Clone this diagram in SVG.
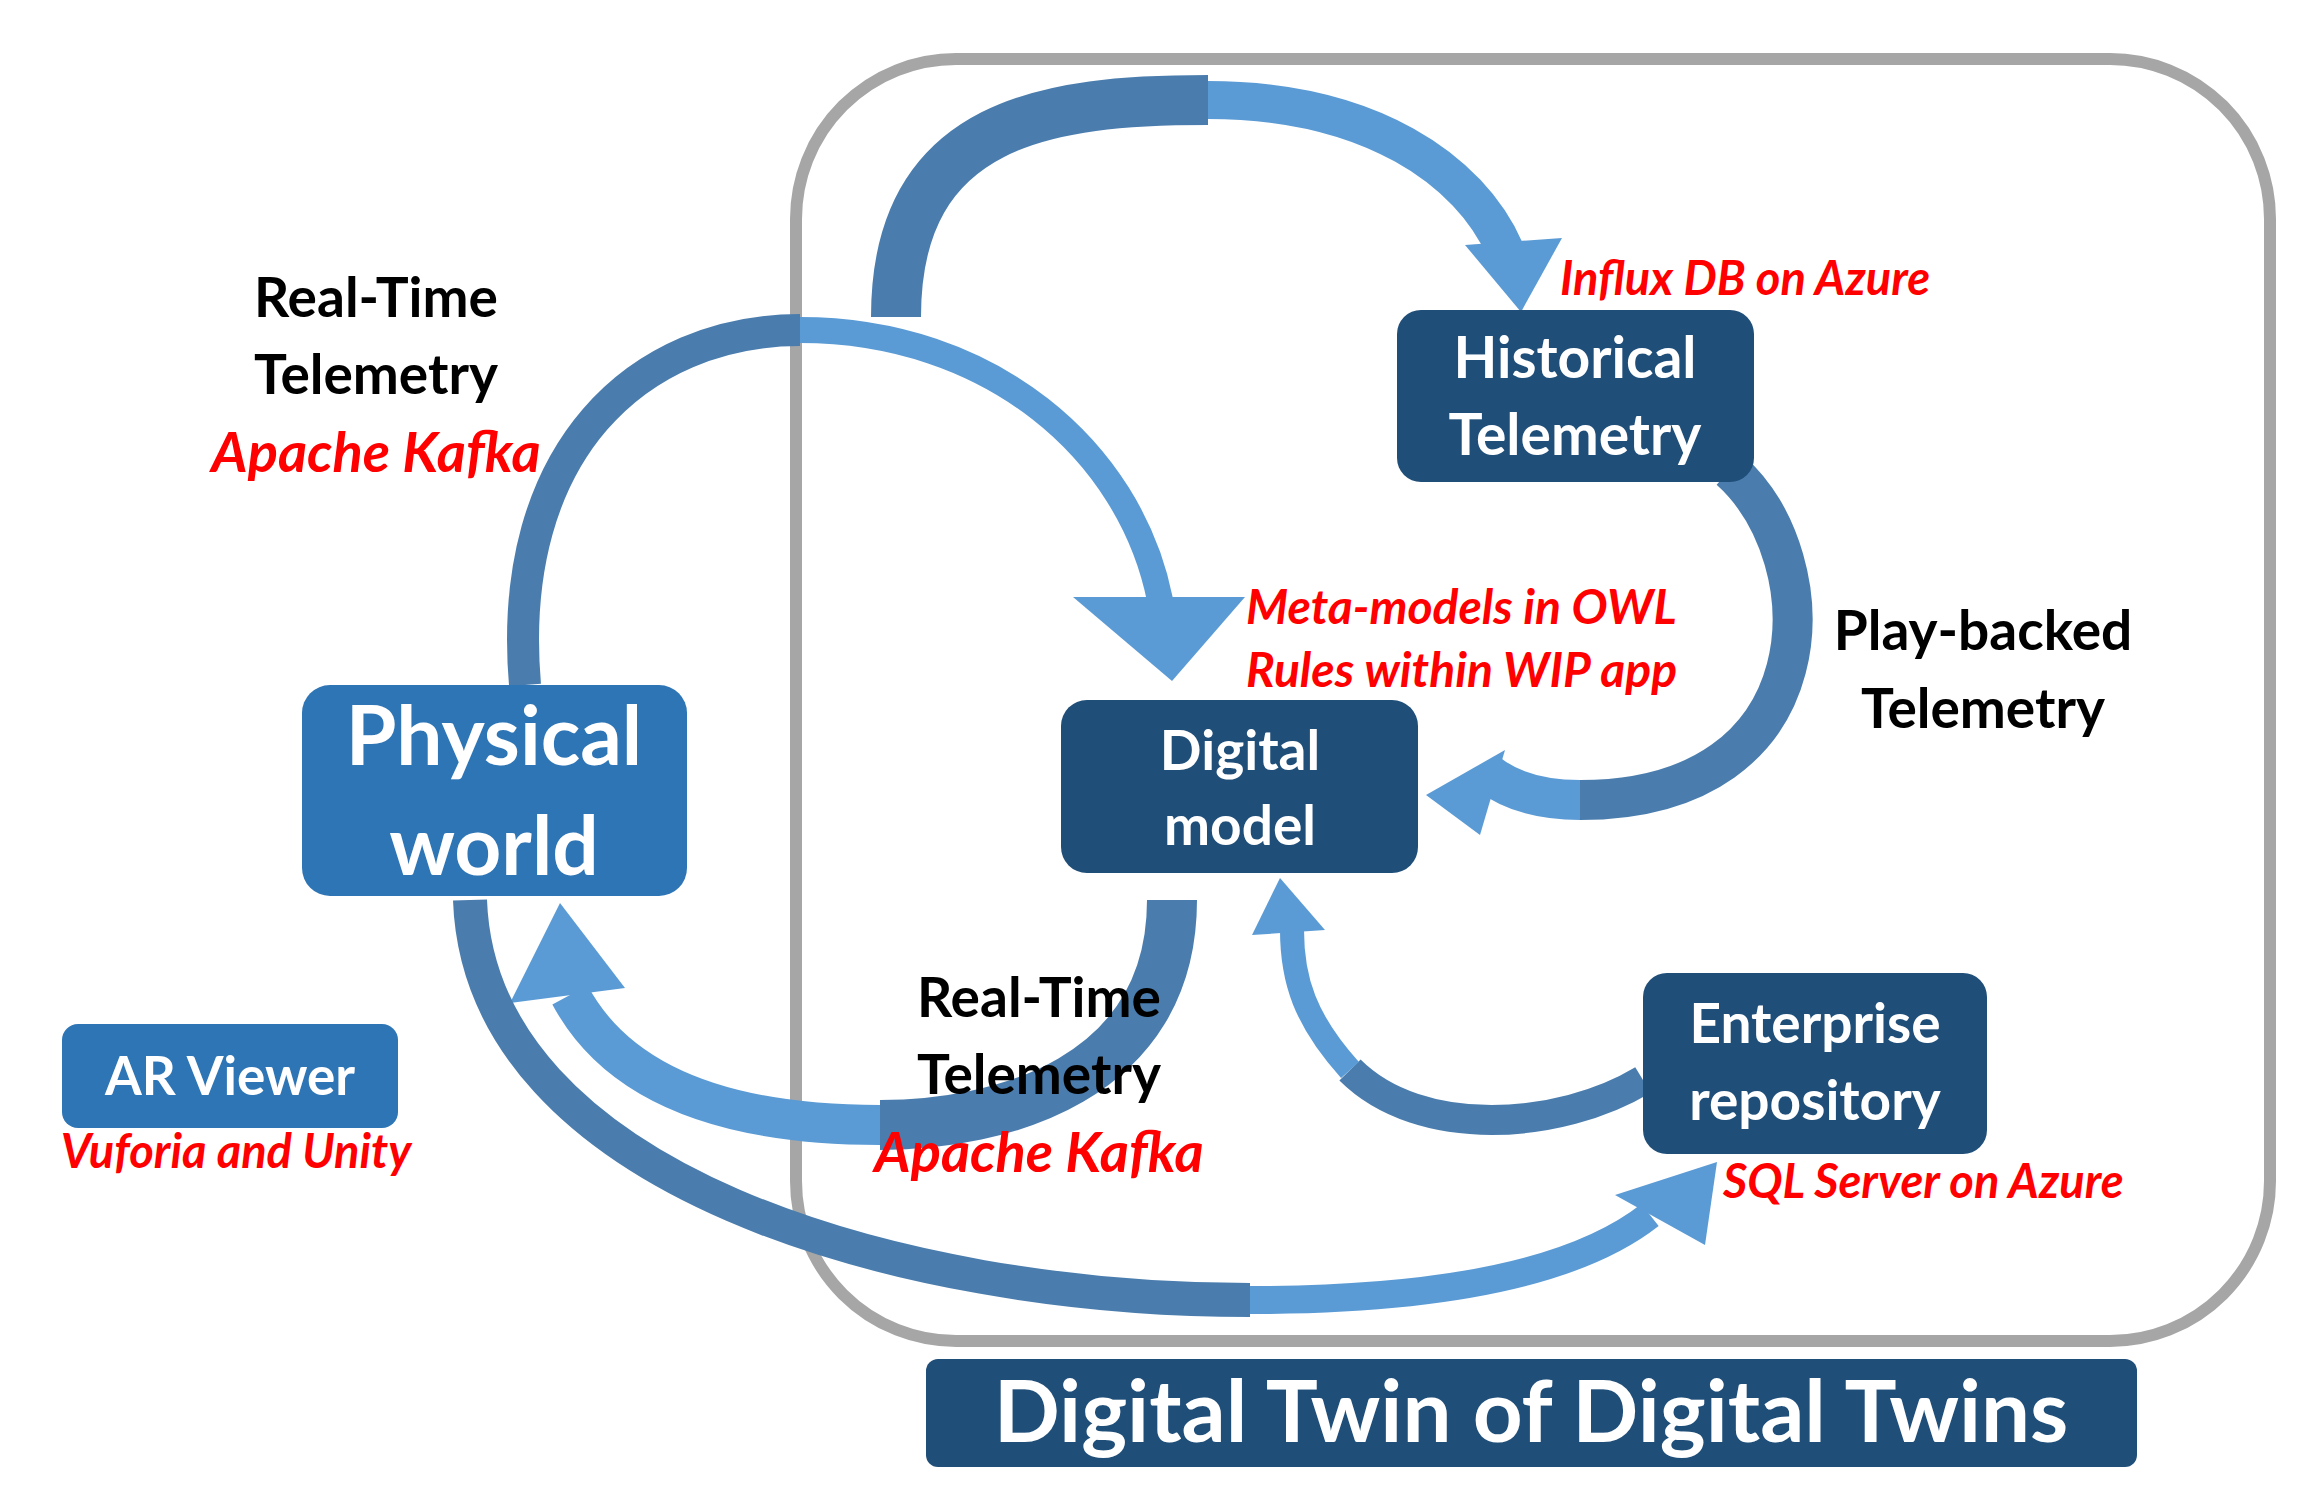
<svg xmlns="http://www.w3.org/2000/svg" width="2299" height="1506" viewBox="0 0 2299 1506">
<style>
.nb{fill:#1F4E79}
.lb{fill:#2E75B6}
.wt{fill:#fff;font-family:Lato,"Open Sans",sans-serif;font-weight:bold;text-anchor:middle}
.bk{fill:#000;font-family:Lato,"Open Sans",sans-serif;font-weight:bold;font-size:55px;text-anchor:middle}
.rd{fill:#FF0000;font-family:Lato,"Open Sans",sans-serif;font-weight:bold;font-style:italic}
.ar{fill:none;stroke-linecap:butt}
.dk{stroke:#4A7DAE}
.lt{stroke:#5B9BD5}
.hd{fill:#5B9BD5}
</style>
<rect width="2299" height="1506" fill="#fff"/>
<rect x="796" y="59" width="1474" height="1282" rx="160" fill="none" stroke="#A6A6A6" stroke-width="12"/>
<g id="connectors">
<path class="ar dk" d="M896,317 C896,120 1050,100 1208,100" stroke-width="50"/>
<path class="ar lt" d="M1208,100 C1370,100 1470,170 1505,250" stroke-width="38"/>
<polygon class="hd" points="1465,245 1562,238 1521,312"/>
<path class="ar dk" d="M525,685 C505,450 640,330 800,330" stroke-width="32"/>
<path class="ar lt" d="M800,330 C990,330 1130,450 1160,600" stroke-width="26"/>
<polygon class="hd" points="1073,597 1245,597 1172,681"/>
<path class="ar dk" d="M1730,470 C1830,560 1830,800 1580,800" stroke-width="40"/>
<path class="ar lt" d="M1580,800 C1540,800 1510,790 1490,775" stroke-width="40"/>
<polygon class="hd" points="1426,795 1505,750 1480,835"/>
<path class="ar dk" d="M1172,900 C1172,1080 1000,1125 880,1125" stroke-width="50"/>
<path class="ar lt" d="M880,1125 C700,1125 610,1070 570,995" stroke-width="40"/>
<polygon class="hd" points="560,903 510,1003 625,988"/>
<path class="ar dk" d="M1643,1080 C1560,1130 1420,1140 1350,1070" stroke-width="30"/>
<path class="ar lt" d="M1350,1070 C1305,1020 1292,980 1292,930" stroke-width="24"/>
<polygon class="hd" points="1280,878 1252,935 1325,930"/>
<path class="ar dk" d="M470,900 C480,1180 900,1300 1250,1300" stroke-width="34"/>
<path class="ar lt" d="M1250,1300 C1450,1300 1580,1270 1650,1215" stroke-width="28"/>
<polygon class="hd" points="1717,1162 1615,1195 1705,1245"/>
</g>
<g id="physical-world"><rect class="lb" x="302" y="685" width="385" height="211" rx="28"/><text class="wt" font-size="82" x="494" y="765">Physical</text><text class="wt" font-size="82" x="494" y="875">world</text></g>
<g id="ar-viewer"><rect class="lb" x="62" y="1024" width="336" height="104" rx="16"/><text class="wt" font-size="53" x="230" y="1095">AR Viewer</text><text class="rd" font-size="47" x="236" y="1168" text-anchor="middle">Vuforia and Unity</text></g>
<g id="historical"><rect class="nb" x="1397" y="310" width="357" height="172" rx="24"/><text class="wt" font-size="57" x="1575" y="378">Historical</text><text class="wt" font-size="57" x="1575" y="455">Telemetry</text><text class="rd" font-size="47" x="1560" y="295">Influx DB on Azure</text></g>
<g id="digital-model"><rect class="nb" x="1061" y="700" width="357" height="173" rx="26"/><text class="wt" font-size="55" x="1240" y="770">Digital</text><text class="wt" font-size="55" x="1240" y="845">model</text><text class="rd" font-size="48" x="1246" y="624">Meta-models in OWL</text><text class="rd" font-size="48" x="1246" y="687">Rules within WIP app</text></g>
<g id="enterprise"><rect class="nb" x="1643" y="973" width="344" height="181" rx="24"/><text class="wt" font-size="55" x="1815" y="1043">Enterprise</text><text class="wt" font-size="55" x="1815" y="1120">repository</text><text class="rd" font-size="47" x="1723" y="1198">SQL Server on Azure</text></g>
<g id="labels">
<text class="bk" x="376" y="317">Real-Time</text><text class="bk" x="376" y="394">Telemetry</text><text class="rd" font-size="56" x="376" y="472" text-anchor="middle">Apache Kafka</text>
<text class="bk" x="1983" y="650">Play-backed</text><text class="bk" x="1983" y="728">Telemetry</text>
<text class="bk" x="1039" y="1017">Real-Time</text><text class="bk" x="1039" y="1094">Telemetry</text><text class="rd" font-size="56" x="1039" y="1172" text-anchor="middle">Apache Kafka</text>
</g>
<g id="title"><rect class="nb" x="926" y="1359" width="1211" height="108" rx="12"/><text class="wt" font-size="87" x="1531" y="1442">Digital Twin of Digital Twins</text></g>
</svg>
